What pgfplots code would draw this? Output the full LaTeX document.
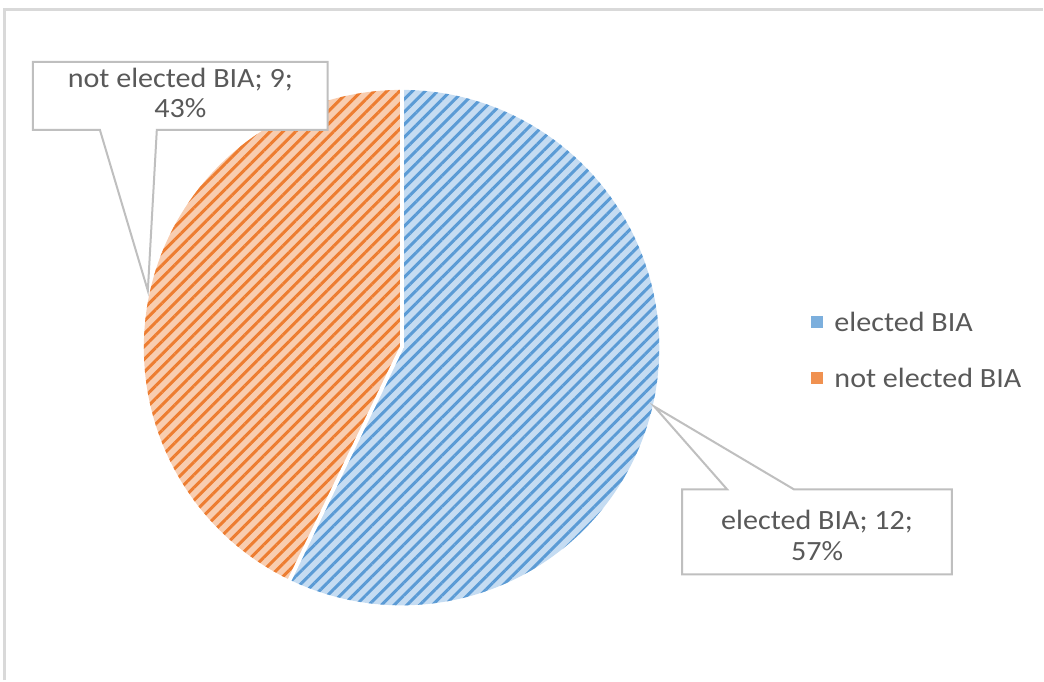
\documentclass[border=0pt]{standalone}
\usepackage{pgfplots}
\pgfplotsset{compat=1.18}
\usepackage{pgfplotstable}
\usetikzlibrary{patterns.meta}
\usepackage{fontspec}
\setmainfont{Carlito}[FakeStretch=1.08]

\definecolor{txt}{HTML}{595959}
\definecolor{framec}{HTML}{D9D9D9}
\definecolor{callout}{HTML}{BFBFBF}
\definecolor{blueA}{HTML}{5B9BD5}
\definecolor{blueB}{HTML}{C5DCF2}
\definecolor{orangeA}{HTML}{ED7D31}
\definecolor{orangeB}{HTML}{F8CDB0}

% slice values
\pgfplotstableread{
label value
1 12
2 9
}\piedata

\begin{document}
\begin{tikzpicture}
\pgfplotstablegetelem{0}{value}\of\piedata \let\va\pgfplotsretval
\pgfplotstablegetelem{1}{value}\of\piedata \let\vb\pgfplotsretval
\pgfmathsetmacro\angA{360*\va/(\va+\vb)}
\pgfmathsetmacro\endA{90-\angA}
\pgfmathsetmacro\endB{450-\angA}
\begin{axis}[
  x=0.5bp, y=0.5bp,
  xmin=0, xmax=1044, ymin=0, ymax=681,
  y dir=reverse,
  hide axis, clip=false,
  font=\fontsize{14}{15.5}\selectfont,
]
\path (axis cs:0,0) rectangle (axis cs:1044,681);

% chart frame
\draw[framec, line width=1.2bp] (axis cs:4.5,681) -- (axis cs:4.5,9.5) -- (axis cs:1044,9.5);

% blue slice: elected BIA
\fill[blueB] (axis cs:402,348) -- (axis cs:402,90)
  arc[start angle=90, end angle=\endA, radius=129bp] -- cycle;
\fill[pattern={Lines[angle=45,distance=4.5bp,line width=1.5bp]}, pattern color=blueA]
  (axis cs:402,348) -- (axis cs:402,90)
  arc[start angle=90, end angle=\endA, radius=129bp] -- cycle;
% orange slice: not elected BIA
\fill[orangeB] (axis cs:402,348) -- (axis cs:402,90)
  arc[start angle=90, end angle=\endB, radius=129bp] -- cycle;
\fill[pattern={Lines[angle=45,distance=4.5bp,line width=1.5bp]}, pattern color=orangeA]
  (axis cs:402,348) -- (axis cs:402,90)
  arc[start angle=90, end angle=\endB, radius=129bp] -- cycle;
% white separators
\draw[white, line width=2bp, line join=round] (axis cs:402,348) -- (axis cs:402,88);
\draw[white, line width=2bp, line join=round] (axis cs:402,348) -- ++(\endA:130bp);

% callouts
\draw[callout, line width=1bp, fill=white]
  (axis cs:33,62) -- (axis cs:328,62) -- (axis cs:328,130) -- (axis cs:157,130)
  -- (axis cs:148,291) -- (axis cs:100,130) -- (axis cs:33,130) -- cycle;
\node[align=center, text=txt] at (axis cs:180.5,93) {not elected BIA; 9;\\43\%};

\draw[callout, line width=1bp, fill=white]
  (axis cs:683,490) -- (axis cs:728,490) -- (axis cs:655,407) -- (axis cs:795,490)
  -- (axis cs:953,490) -- (axis cs:953,575) -- (axis cs:683,575) -- cycle;
\node[align=center, text=txt] at (axis cs:818,536) {elected BIA; 12;\\57\%};

% legend
\fill[blueA!80] (axis cs:812,316) rectangle (axis cs:824,328);
\node[anchor=west, text=txt, inner sep=0pt] at (axis cs:835,322) {elected BIA};
\fill[orangeA!85] (axis cs:812,372) rectangle (axis cs:824,384);
\node[anchor=west, text=txt, inner sep=0pt] at (axis cs:835,378) {not elected BIA};
\end{axis}
\end{tikzpicture}
\end{document}
